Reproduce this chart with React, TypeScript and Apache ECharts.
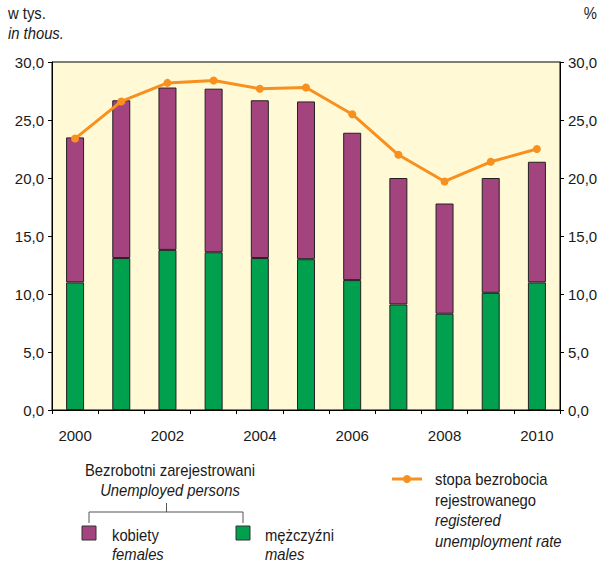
import React, { useEffect, useRef } from "react";
import * as echarts from "echarts";

const years = ["2000", "2001", "2002", "2003", "2004", "2005", "2006", "2007", "2008", "2009", "2010"];
const males = [11.0, 13.1, 13.8, 13.6, 13.1, 13.0, 11.2, 9.1, 8.3, 10.1, 11.0];
const females = [12.5, 13.6, 14.0, 14.1, 13.6, 13.6, 12.7, 10.9, 9.5, 9.9, 10.4];
const rate = [23.4, 26.6, 28.2, 28.4, 27.7, 27.8, 25.5, 22.0, 19.7, 21.4, 22.5];

const PURPLE = "#A3447F";
const GREEN = "#00A04E";
const ORANGE = "#F7901E";
const FONT = "'Liberation Sans', Arial, sans-serif";
const AXFS = 15;
const FS = 17;
const SX = 0.87;

export default function App() {
  const ref = useRef<HTMLDivElement>(null);
  useEffect(() => {
    const chart = echarts.init(ref.current!, null, { renderer: "svg" });
    const fmt = (v: number) => v.toFixed(1).replace(".", ",");
    const axisCommon = {
      type: "value",
      min: 0,
      max: 30,
      interval: 5,
      splitLine: { show: false },
      axisLine: { show: true, lineStyle: { color: "#000", width: 1 } },
      axisTick: { show: true, length: 4, lineStyle: { color: "#000" } },
      axisLabel: { formatter: fmt, color: "#1a1a1a", fontSize: AXFS, fontFamily: FONT, margin: 8 },
    };
    const t = (x: number, y: number, text: string, italic = false, align = "left") => ({
      type: "text",
      x,
      y,
      scaleX: SX,
      style: {
        text,
        fill: "#1a1a1a",
        fontSize: FS,
        fontFamily: FONT,
        fontStyle: italic ? "italic" : "normal",
        textAlign: align,
        textVerticalAlign: "middle",
      },
    });
    chart.setOption({
      animation: false,
      grid: {
        left: 52,
        right: 42,
        top: 62,
        bottom: 156,
        show: true,
        backgroundColor: "#FFF9D6",
        borderColor: "#000",
        borderWidth: 1,
      },
      xAxis: {
        type: "category",
        data: years,
        axisLine: { lineStyle: { color: "#000" } },
        axisTick: { show: true, interval: 0, length: 4, lineStyle: { color: "#000" } },
        axisLabel: { interval: 1, color: "#1a1a1a", fontSize: AXFS, fontFamily: FONT, margin: 18 },
      },
      yAxis: [
        { ...axisCommon, position: "left" },
        { ...axisCommon, position: "right" },
      ],
      series: [
        {
          type: "bar",
          stack: "u",
          data: males,
          barWidth: 18,
          itemStyle: { color: GREEN, borderColor: "#222", borderWidth: 1 },
        },
        {
          type: "bar",
          stack: "u",
          data: females,
          barWidth: 18,
          itemStyle: { color: PURPLE, borderColor: "#222", borderWidth: 1 },
        },
        {
          type: "line",
          yAxisIndex: 1,
          data: rate,
          symbol: "circle",
          symbolSize: 8,
          lineStyle: { color: ORANGE, width: 3 },
          itemStyle: { color: ORANGE },
          z: 5,
        },
      ],
      graphic: [
        t(8, 13, "w tys."),
        t(8, 33, "in thous.", true),
        t(597, 13, "%", false, "right"),
        t(170, 470, "Bezrobotni zarejestrowani", false, "center"),
        t(170, 490, "Unemployed persons", true, "center"),
        {
          type: "polyline",
          shape: { points: [[89, 523], [89, 512], [243, 512], [243, 523]] },
          style: { stroke: "#555", lineWidth: 1, fill: null },
        },
        {
          type: "line",
          shape: { x1: 166.5, y1: 503, x2: 166.5, y2: 512 },
          style: { stroke: "#555", lineWidth: 1 },
        },
        {
          type: "rect",
          shape: { x: 82, y: 526, width: 14, height: 14 },
          style: { fill: PURPLE, stroke: "#333", lineWidth: 1 },
        },
        {
          type: "rect",
          shape: { x: 236, y: 526, width: 14, height: 14 },
          style: { fill: GREEN, stroke: "#333", lineWidth: 1 },
        },
        t(112, 535, "kobiety"),
        t(112, 554, "females", true),
        t(265, 535, "mężczyźni"),
        t(265, 554, "males", true),
        {
          type: "line",
          shape: { x1: 392, y1: 479, x2: 422, y2: 479 },
          style: { stroke: ORANGE, lineWidth: 3 },
        },
        {
          type: "circle",
          shape: { cx: 407, cy: 479, r: 4 },
          style: { fill: ORANGE },
        },
        t(435, 479, "stopa bezrobocia"),
        t(435, 500, "rejestrowanego"),
        t(435, 520, "registered", true),
        t(435, 541, "unemployment rate", true),
      ],
    });
    return () => chart.dispose();
  }, []);
  return (
    <div
      ref={ref}
      style={{ position: "fixed", left: 0, top: 0, width: 602, height: 566, background: "#fff" }}
    />
  );
}
